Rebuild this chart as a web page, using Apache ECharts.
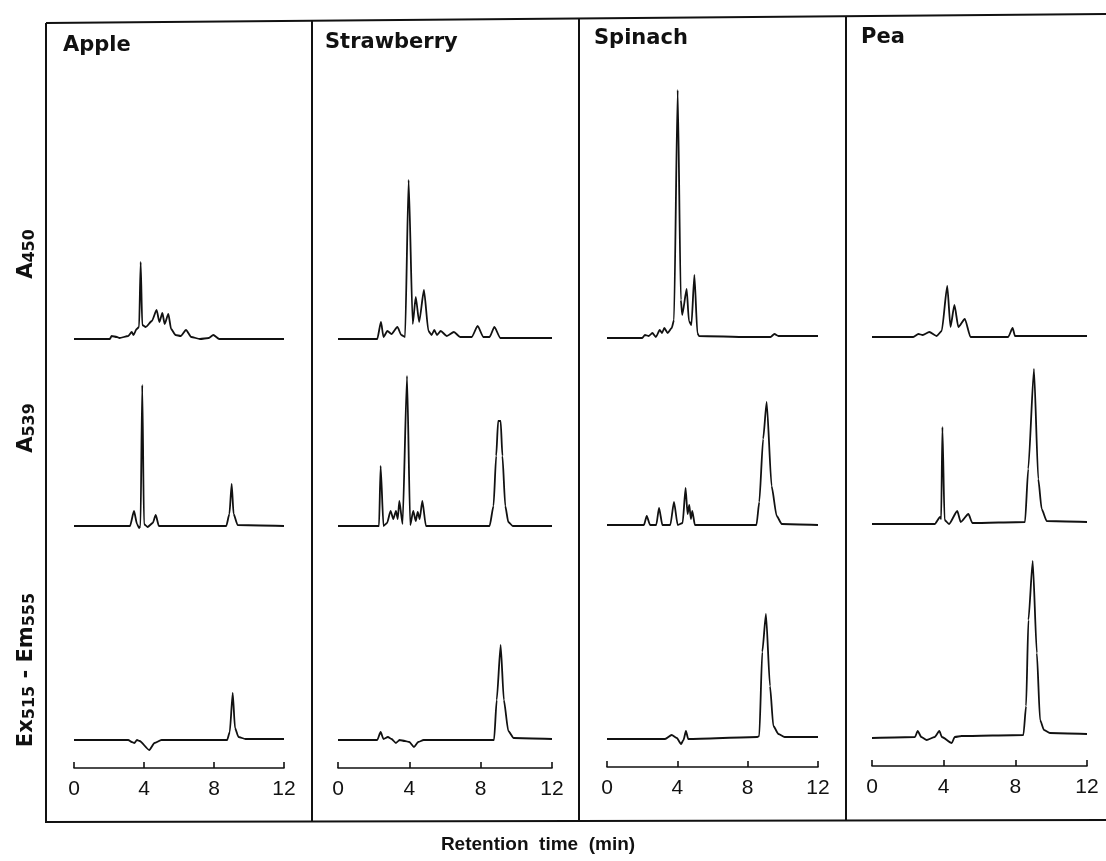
<!DOCTYPE html>
<html>
<head>
<meta charset="utf-8">
<script src="https://cdn.jsdelivr.net/npm/echarts@6/dist/echarts.min.js"></script>
<style>
  html, body { margin: 0; background: #fff; }
  #chart { width: 1106px; height: 861px; }
</style>
</head>
<body>
<div id="chart"></div>
<script>
const fruits = ["Apple", "Strawberry", "Spinach", "Pea"];
const xTicks = [0, 4, 8, 12];

// [retention time (min), detector signal]
const appleA450 = [[0,0],[2.05,0],[2.15,3],[2.45,2],[2.6,1],[3.1,3],[3.3,7],[3.4,4],[3.58,10],[3.72,12],[3.81,77],[3.9,14],[4.1,12],[4.45,18],[4.72,29],[4.88,17],[5.05,26],[5.18,15],[5.39,25],[5.55,10],[5.8,4],[6.1,3],[6.4,9],[6.7,2],[7.2,0],[7.7,1],[7.96,4],[8.3,0],[12,0]];
const appleA539 = [[0,0],[3.2,0],[3.43,15],[3.6,2],[3.72,-2],[3.8,0],[3.9,141],[4.0,2],[4.2,-1],[4.5,3],[4.67,11],[4.85,0],[8.7,0],[8.88,12],[9.01,42],[9.12,12],[9.35,1],[12,0]];
const appleEx = [[0,0],[3.1,0],[3.3,-2],[3.45,-3],[3.6,0],[3.75,-1],[4.3,-10],[4.6,-3],[5.0,0],[8.75,0],[8.9,8],[9.07,47],[9.2,12],[9.4,3],[9.8,1],[12,1]];

const strawA450 = [[0,0],[2.2,0],[2.41,17],[2.55,2],[2.77,8],[3.0,5],[3.33,12],[3.55,4],[3.76,2],[3.96,159],[4.19,15],[4.36,42],[4.55,17],[4.82,49],[5.07,8],[5.25,4],[5.4,9],[5.55,4],[5.76,8],[6.1,3],[6.5,7],[6.85,2],[7.5,2],[7.83,13],[8.15,2],[8.5,2],[8.77,12],[9.1,1],[12,1]];
const strawA539 = [[0,0],[2.3,0],[2.39,60],[2.55,0],[2.75,3],[2.95,15],[3.1,7],[3.25,15],[3.35,7],[3.44,25],[3.62,2],[3.87,150],[4.05,1],[4.22,15],[4.36,5],[4.47,14],[4.58,7],[4.73,25],[4.93,0],[8.5,0],[8.72,20],[8.87,70],[8.98,105],[9.12,105],[9.22,70],[9.38,20],[9.55,4],[9.8,0],[12,0]];
const strawEx = [[0,0],[2.2,0],[2.39,8],[2.55,1],[2.8,3],[3.0,1],[3.25,-3],[3.45,0],[3.75,-1],[4.0,-2],[4.26,-7],[4.5,-2],[4.8,0],[8.75,0],[8.9,40],[9.12,95],[9.3,40],[9.55,9],[9.85,2],[12,1]];

const spinA450 = [[0,0],[2.0,0],[2.16,3],[2.38,2],[2.58,5],[2.78,1],[3.0,8],[3.13,5],[3.26,10],[3.45,5],[3.68,10],[3.81,18],[4.02,248],[4.2,38],[4.28,23],[4.53,49],[4.66,17],[4.8,13],[4.97,63],[5.14,5],[5.23,2],[8,1],[9.3,1],[9.52,4],[9.75,2],[12,2]];
const spinA539 = [[0,0],[2.1,0],[2.26,9],[2.45,0],[2.8,0],[2.96,17],[3.15,0],[3.6,0],[3.81,23],[4.02,0],[4.3,2],[4.47,37],[4.58,11],[4.68,20],[4.77,6],[4.85,14],[5.0,0],[8.5,0],[8.66,23],[8.88,86],[9.08,123],[9.36,39],[9.65,9],[9.94,1],[12,0]];
const spinEx = [[0,0],[3.3,0],[3.68,4],[3.97,1],[4.21,-5],[4.35,-1],[4.49,8],[4.62,0],[8.55,2],[8.66,3],[8.83,87],[9.04,125],[9.27,53],[9.46,13],[9.75,5],[10.1,2],[12,2]];

const peaA450 = [[0,0],[2.3,0],[2.59,3],[2.83,2],[3.2,5],[3.61,1],[3.89,6],[4.2,51],[4.38,10],[4.6,32],[4.82,10],[5.18,18],[5.5,0],[7.6,0],[7.85,9],[7.98,1],[12,1]];
const peaA539 = [[0,0],[3.5,0],[3.8,7],[3.86,5],[3.93,97],[4.05,4],[4.3,0],[4.76,13],[4.95,2],[5.38,10],[5.6,1],[8.54,2],[8.72,55],[9.04,155],[9.28,45],[9.47,15],[9.75,3],[12,2]];
const peaEx = [[0,0],[2.4,1],[2.55,7],[2.75,1],[3.05,-2],[3.5,1],[3.76,7],[3.9,1],[4.45,-5],[4.62,1],[5,2],[8.45,3],[8.6,32],[8.73,118],[8.97,177],[9.2,85],[9.38,18],[9.6,8],[9.93,5],[12,4]];

const traces = [
  [appleA450, appleA539, appleEx],
  [strawA450, strawA539, strawEx],
  [spinA450, spinA539, spinEx],
  [peaA450, peaA539, peaEx]
];

// layout (px)
const panelX0 = [74, 338, 607, 872];
const panelX12 = [284, 552, 818, 1087];
const panelShift = [0, 0, -1, -2];
const rowBase = [339, 526, 740];
const yMin = -28, yMax = 270;
const font = "'Liberation Sans', Arial, Helvetica, sans-serif";
const boldFont = "'DejaVu Sans', 'Liberation Sans', sans-serif";
const titlePos = [[63, 35], [325, 32], [594, 28], [861, 27]];

let grid = [], xAxis = [], yAxis = [], series = [];
for (let p = 0; p < 4; p++) {
  for (let r = 0; r < 3; r++) {
    let i = grid.length;
    grid.push({
      left: panelX0[p],
      width: panelX12[p] - panelX0[p],
      top: rowBase[r] + panelShift[p] - yMax,
      height: yMax - yMin
    });
    xAxis.push({
      gridIndex: i,
      type: "value",
      min: 0,
      max: 12,
      interval: 4,
      show: r === 2,
      axisLine: { onZero: false, lineStyle: { color: "#111", width: 1.6 } },
      axisTick: { inside: true, length: 6, lineStyle: { color: "#111", width: 1.6 } },
      axisLabel: {
        color: "#111", fontSize: 21, fontFamily: font, margin: 11,
        formatter: (v) => (xTicks.includes(v) ? String(v) : "")
      },
      splitLine: { show: false }
    });
    yAxis.push({ gridIndex: i, type: "value", min: yMin, max: yMax, show: false });
    series.push({
      type: "line",
      xAxisIndex: i,
      yAxisIndex: i,
      data: traces[p][r],
      showSymbol: false,
      symbol: "none",
      clip: false,
      smooth: 0.2,
      smoothMonotone: "x",
      lineStyle: { color: "#111", width: 1.8 }
    });
  }
}

const labelRich = {
  a: { fontSize: 21, fontWeight: "bold", fontFamily: boldFont, fill: "#111" },
  b: { fontSize: 16, fontWeight: "bold", fontFamily: boldFont, fill: "#111", verticalAlign: "bottom" }
};

let chart = echarts.init(document.getElementById("chart"));
chart.setOption({
  backgroundColor: "#fff",
  animation: false,
  title: fruits.map((f, p) => ({
    text: f,
    left: titlePos[p][0],
    top: titlePos[p][1],
    padding: 0,
    textStyle: { fontSize: 21, fontWeight: "bold", color: "#111", fontFamily: boldFont }
  })),
  grid: grid,
  xAxis: xAxis,
  yAxis: yAxis,
  series: series,
  graphic: [
    // outer frame
    {
      type: "polyline",
      shape: { points: [[46, 23], [1110, 14], [1110, 820], [46, 822], [46, 23]] },
      style: { stroke: "#111", lineWidth: 2, fill: null }
    },
    { type: "line", shape: { x1: 312, y1: 21, x2: 312, y2: 822 }, style: { stroke: "#111", lineWidth: 2 } },
    { type: "line", shape: { x1: 579, y1: 19, x2: 579, y2: 821 }, style: { stroke: "#111", lineWidth: 2 } },
    { type: "line", shape: { x1: 846, y1: 17, x2: 846, y2: 821 }, style: { stroke: "#111", lineWidth: 2 } },
    // row labels
    {
      type: "text", x: 27, y: 254, rotation: Math.PI / 2,
      style: { text: "{a|A}{b|450}", align: "center", verticalAlign: "middle", rich: labelRich }
    },
    {
      type: "text", x: 27, y: 428, rotation: Math.PI / 2,
      style: { text: "{a|A}{b|539}", align: "center", verticalAlign: "middle", rich: labelRich }
    },
    {
      type: "text", x: 27, y: 670, rotation: Math.PI / 2,
      style: { text: "{a|Ex}{b|515}{a| - Em}{b|555}", align: "center", verticalAlign: "middle", rich: labelRich }
    },
    {
      type: "text", x: 538, y: 845,
      style: {
        text: "Retention  time  (min)", align: "center", verticalAlign: "middle",
        fontSize: 19, fontWeight: "bold", fontFamily: font, fill: "#111"
      }
    }
  ]
});
</script>
</body>
</html>
